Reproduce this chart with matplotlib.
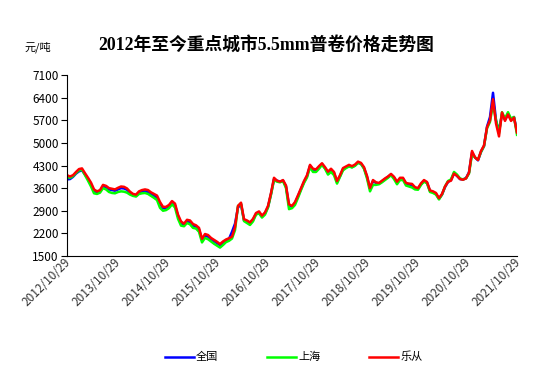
import pandas as pd
import matplotlib
matplotlib.use('Agg')
import matplotlib.pyplot as plt
import matplotlib.dates as mdates
import matplotlib.transforms as mtransforms

plt.rcParams['font.family'] = ['Noto Sans CJK SC', 'DejaVu Sans']

# 乐从
lecong = [4000, 3960, 4000, 4100, 4190, 4210, 4060, 3920, 3770, 3560,
          3500, 3540, 3700, 3670, 3600, 3580, 3560, 3610, 3650, 3640,
          3590, 3490, 3420, 3400, 3500, 3540, 3560, 3540, 3470, 3420,
          3370, 3170, 3020, 3020, 3080, 3200, 3120, 2780, 2570, 2500,
          2620, 2600, 2490, 2450, 2370, 2030, 2180, 2150, 2060, 2000,
          1940, 1870, 1950, 2010, 2050, 2100, 2390, 3050, 3150, 2640,
          2600, 2540, 2650, 2830, 2880, 2750, 2850, 3050, 3450, 3920,
          3830, 3800, 3850, 3680, 3100, 3050, 3170, 3380, 3600, 3820,
          4000, 4320, 4200, 4180, 4280, 4370, 4250, 4110, 4200, 4100,
          3820, 4000, 4220, 4270, 4320, 4280, 4330, 4420, 4380, 4250,
          3980, 3600, 3850, 3780, 3760, 3830, 3900, 3960, 4040, 3950,
          3800, 3920, 3920, 3760, 3740, 3730, 3630, 3600, 3750, 3850,
          3790, 3530, 3500, 3450, 3290, 3420, 3650, 3800, 3830, 4050,
          3980, 3880, 3860, 3900, 4080, 4750, 4550, 4470, 4750, 4920,
          5480, 5700, 6350, 5600, 5200, 5940, 5680, 5880, 5680, 5780,
          5320]

# 全国
quanguo = [3870, 3880, 3950, 4050, 4120, 4150, 4020, 3880, 3720, 3520,
           3470, 3500, 3640, 3620, 3560, 3540, 3520, 3560, 3600, 3590,
           3550, 3450, 3380, 3360, 3440, 3480, 3500, 3480, 3420, 3360,
           3310, 3120, 2980, 2970, 3030, 3140, 3070, 2730, 2520, 2450,
           2560, 2550, 2440, 2400, 2320, 1990, 2130, 2100, 2020, 1960,
           1900, 1840, 1920, 1990, 2030, 2250, 2500, 3000, 3100, 2600,
           2570, 2510, 2620, 2800, 2850, 2720, 2820, 3020, 3420, 3880,
           3830, 3800, 3830, 3650, 3060, 3020, 3140, 3350, 3570, 3790,
           3970, 4290, 4170, 4150, 4250, 4340, 4220, 4080, 4170, 4070,
           3790, 3970, 4190, 4240, 4290, 4250, 4300, 4390, 4350, 4220,
           3950, 3580, 3820, 3760, 3740, 3810, 3880, 3950, 4020, 3930,
           3780, 3890, 3890, 3740, 3710, 3700, 3600, 3580, 3720, 3820,
           3770, 3510, 3480, 3420, 3270, 3400, 3630, 3790, 3850, 4060,
           3980, 3880, 3870, 3910, 4090, 4700, 4550, 4460, 4720, 4900,
           5500, 5800, 6550, 5700, 5350, 5900, 5720, 5900, 5720, 5800,
           5350]

# 上海
shanghai = [3950, 3920, 3970, 4070, 4150, 4170, 4000, 3830, 3650, 3440,
            3420, 3460, 3600, 3560, 3480, 3450, 3440, 3480, 3500, 3490,
            3460, 3400, 3360, 3340, 3420, 3440, 3450, 3420, 3360, 3300,
            3230, 2990, 2900, 2920, 2980, 3100, 3000, 2650, 2440, 2420,
            2520, 2480, 2370, 2350, 2250, 1920, 2060, 2020, 1950, 1880,
            1820, 1760, 1840, 1930, 1970, 2040, 2300, 3050, 3120, 2580,
            2520, 2460, 2570, 2780, 2820, 2690, 2780, 3000, 3400, 3850,
            3800, 3780, 3820, 3600, 2950, 2980, 3080, 3300, 3540, 3760,
            3930, 4250, 4100, 4100, 4200, 4320, 4200, 4020, 4100, 4000,
            3740, 3950, 4150, 4220, 4270, 4240, 4290, 4380, 4350, 4200,
            3900, 3500, 3700, 3700, 3720, 3780, 3850, 3920, 4000, 3880,
            3720, 3850, 3850, 3680, 3650, 3620, 3560, 3550, 3700, 3800,
            3750, 3480, 3450, 3400, 3250, 3400, 3650, 3820, 3870, 4100,
            4020, 3900, 3870, 3900, 4050, 4650, 4550, 4480, 4720, 4900,
            5450, 5650, 6200, 5700, 5300, 5950, 5750, 5950, 5750, 5800,
            5250]

dates = pd.date_range('2012-10-29', '2021-10-29', periods=len(lecong))
tick_dates = pd.to_datetime([f'{y}-10-29' for y in range(2012, 2022)])
y_ticks = [1500, 2200, 2900, 3600, 4300, 5000, 5700, 6400, 7100]

fig = plt.figure(figsize=(5.52, 3.89), dpi=100)
ax = fig.add_axes([0.1214, 0.3419, 0.8152, 0.4653])

ax.plot(dates, quanguo, color='#0000ff', lw=1.8, label='全国')
ax.plot(dates, shanghai, color='#00ff00', lw=1.8, label='上海')
ax.plot(dates, lecong, color='#ff0000', lw=1.8, label='乐从')

ax.set_xlim(tick_dates[0], tick_dates[-1])
ax.set_ylim(1500, 7100)
ax.set_yticks(y_ticks)
ax.set_xticks(tick_dates)
ax.xaxis.set_major_formatter(mdates.DateFormatter('%Y/%m/%d'))
ax.tick_params(axis='y', length=4, labelsize=8.5, pad=2)
ax.tick_params(axis='x', length=0, labelsize=8.5, pad=0, labelcolor='#333333')
shift = mtransforms.ScaledTranslation(-0.03, 0, fig.dpi_scale_trans)
for lab in ax.get_xticklabels():
    lab.set_rotation(45)
    lab.set_ha('right')
    lab.set_va('top')
    lab.set_rotation_mode('anchor')
    lab.set_transform(lab.get_transform() + shift)

ax.spines['top'].set_visible(False)
ax.spines['right'].set_visible(False)

fig.text(0.482, 0.884, '2012年至今重点城市5.5mm普卷价格走势图', ha='center', va='center',
         fontsize=12.8, fontweight='bold', family=['Liberation Serif', 'Noto Sans CJK SC'])
fig.text(0.045, 0.879, '元/吨', ha='left', va='center', fontsize=8)

fig.legend(loc='center', bbox_to_anchor=(0.532, 0.082), ncol=3, frameon=False,
           fontsize=8, handlelength=2.6, handletextpad=0.2, columnspacing=4.4)

fig.savefig('out.png', dpi=100)
